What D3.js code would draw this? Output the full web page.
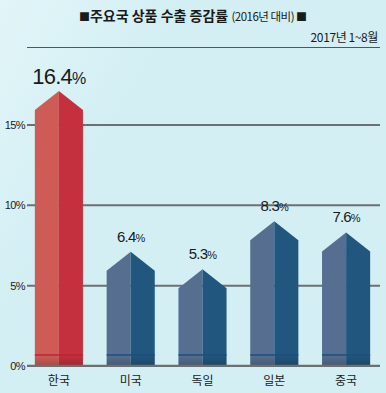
<!DOCTYPE html>
<html>
<head>
<meta charset="utf-8">
<script src="https://cdn.jsdelivr.net/npm/d3@7"></script>
<style>
  body { margin: 0; background: #d3eff4; }
  text { font-family: "Noto Sans CJK KR", "Noto Sans", sans-serif; }
</style>
</head>
<body>
<div id="chart"></div>
<script>
// data
var countries = ["한국", "미국", "독일", "일본", "중국"]
var growth = [16.4, 6.4, 5.3, 8.3, 7.6]
var yTicks = [0, 5, 10, 15]

var width = 386
var height = 393

var svg = d3.select("#chart")
  .append("svg")
    .attr("width", width)
    .attr("height", height)

// background with a soft lighter sweep at the top left
var defs = svg.append("defs")
var bg = defs.append("linearGradient")
  .attr("id", "bg")
  .attr("x1", 0).attr("y1", 0).attr("x2", 1).attr("y2", 0.6)
bg.append("stop").attr("offset", "0%").attr("stop-color", "#e2f5f8")
bg.append("stop").attr("offset", "35%").attr("stop-color", "#d3eff4")
bg.append("stop").attr("offset", "100%").attr("stop-color", "#d3eff4")
svg.append("rect")
  .attr("width", width).attr("height", height)
  .attr("fill", "url(#bg)")

var shade = defs.append("linearGradient")
  .attr("id", "shade")
  .attr("x1", 0).attr("y1", 0).attr("x2", 0).attr("y2", 1)
shade.append("stop").attr("offset", "0%").attr("stop-color", "#000").attr("stop-opacity", 0)
shade.append("stop").attr("offset", "100%").attr("stop-color", "#000").attr("stop-opacity", 0.18)

// title
var title = svg.append("text")
  .attr("x", 193).attr("y", 21)
  .attr("text-anchor", "middle")
  .style("fill", "#1a1a1a")
title.append("tspan").style("font-size", "11px").text("■")
title.append("tspan").style("font-size", "14px").style("font-weight", "bold").text("주요국 상품 수출 증감률 ")
title.append("tspan").style("font-size", "11.5px").attr("letter-spacing", "-0.5").text("(2016년 대비) ")
title.append("tspan").style("font-size", "11px").text("■")

svg.append("text")
  .attr("x", 378).attr("y", 42)
  .attr("text-anchor", "end")
  .style("font-size", "12px")
  .attr("letter-spacing", "-0.4")
  .style("fill", "#1a1a1a")
  .text("2017년 1~8월")

svg.append("line")
  .attr("x1", 27).attr("x2", 380)
  .attr("y1", 47.5).attr("y2", 47.5)
  .attr("stroke", "#555").attr("stroke-width", 1)

// scales
var x = d3.scaleBand()
  .domain(countries)
  .range([23, 382])
  .paddingInner(0.33)
  .paddingOuter(0.165)

var y = d3.scaleLinear()
  .domain([0, 15])
  .range([365.5, 124.5])

// grid + tick labels
var yAxis = svg.append("g")
  .attr("transform", "translate(27,0)")
  .call(d3.axisRight(y).tickValues(yTicks).tickSize(353).tickFormat(function(d) { return d + "%" }))
yAxis.select(".domain").remove()
yAxis.selectAll(".tick line")
  .attr("stroke", "#6d7072")
  .attr("stroke-width", 2)
yAxis.selectAll(".tick text")
  .attr("x", -2)
  .attr("dy", "0.35em")
  .attr("text-anchor", "end")
  .style("font-size", "11px")
  .attr("letter-spacing", "-0.6")
  .style("font-family", "Liberation Sans, Arial, sans-serif")
  .style("fill", "#1a1a1a")

var palette = {
  "한국": ["#cf5b56", "#c4303d"],
  "미국": ["#566e8f", "#21567f"]
}
function faceColors(c) { return c === "한국" ? palette["한국"] : palette["미국"] }

var data = countries.map(function(c, i) { return {country: c, value: growth[i]} })

var bars = svg.selectAll(".bar")
  .data(data)
  .enter().append("g")
    .attr("class", "bar")

var roof = 19
var base = y(0)

bars.each(function(d) {
  var g = d3.select(this)
  var x0 = x(d.country)
  var w = x.bandwidth()
  var xm = x0 + w / 2
  var apex = y(d.value) - 11
  var shoulder = apex + roof
  var cols = faceColors(d.country)
  // left face
  g.append("path")
    .attr("d", "M" + x0 + "," + base + "L" + x0 + "," + shoulder + "L" + xm + "," + apex + "L" + xm + "," + base + "Z")
    .attr("fill", cols[0])
  // right face
  g.append("path")
    .attr("d", "M" + xm + "," + base + "L" + xm + "," + apex + "L" + (x0 + w) + "," + shoulder + "L" + (x0 + w) + "," + base + "Z")
    .attr("fill", cols[1])
  // base band
  g.append("rect")
    .attr("x", x0).attr("y", base - 10)
    .attr("width", w).attr("height", 10)
    .attr("fill", "url(#shade)")
  g.append("line")
    .attr("x1", x0).attr("x2", x0 + w)
    .attr("y1", base - 10.5).attr("y2", base - 10.5)
    .attr("stroke", d.country === "한국" ? "#b82434" : "#1f4f78")
    .attr("stroke-width", 1.5)

  // value label
  var big = d.country === "한국"
  var t = g.append("text")
    .attr("x", xm)
    .attr("y", apex - (big ? 7 : 10))
    .attr("text-anchor", "middle")
    .style("font-family", "Liberation Sans, Arial, sans-serif")
    .style("fill", "#1a1a1a")
    .attr("letter-spacing", "-0.8")
  t.append("tspan").style("font-size", big ? "22px" : "15px").text(d.value.toFixed(1))
  t.append("tspan").style("font-size", big ? "16px" : "11px").text("%")
})

// base line
svg.append("line")
  .attr("x1", 27).attr("x2", 380)
  .attr("y1", base).attr("y2", base)
  .attr("stroke", "#6d7072").attr("stroke-width", 1.5)

// category labels
svg.selectAll(".cat")
  .data(countries)
  .enter().append("text")
    .attr("class", "cat")
    .attr("x", function(d) { return x(d) + x.bandwidth() / 2 })
    .attr("y", 385)
    .attr("text-anchor", "middle")
    .style("font-size", "12px")
    .style("fill", "#1a1a1a")
    .text(function(d) { return d })
</script>
</body>
</html>
